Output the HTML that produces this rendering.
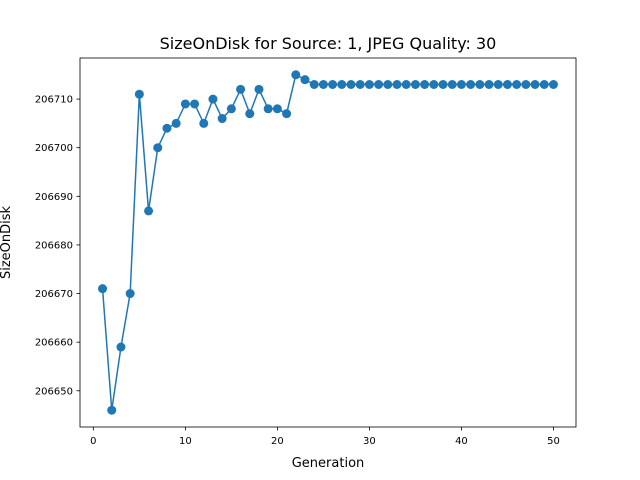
<!DOCTYPE html>
<html><head><meta charset="utf-8"><style>body{margin:0;background:#fff}svg{display:block;font-family:"DejaVu Sans","Liberation Sans",sans-serif}</style></head>
<body>
<svg id="chart" width="640" height="480" viewBox="0 0 640 480" xmlns="http://www.w3.org/2000/svg">
<rect width="640" height="480" fill="#fff"/>
<text x="328" y="49" font-size="16" text-anchor="middle">SizeOnDisk for Source: 1, JPEG Quality: 30</text>
<g id="axes"></g>
<text x="328" y="467" font-size="13" text-anchor="middle">Generation</text>
<text x="0" y="0" font-size="13" text-anchor="middle" transform="translate(10,242.5) rotate(-90)">SizeOnDisk</text>
</svg>
<script>
const generations=[1,2,3,4,5,6,7,8,9,10,11,12,13,14,15,16,17,18,19,20,21,22,23,24,25,26,27,28,29,30,31,32,33,34,35,36,37,38,39,40,41,42,43,44,45,46,47,48,49,50];
const sizes=[206671,206646,206659,206670,206711,206687,206700,206704,206705,206709,
206709,206705,206710,206706,206708,206712,206707,206712,206708,206708,
206707,206715,206714,206713,206713,206713,206713,206713,206713,206713,
206713,206713,206713,206713,206713,206713,206713,206713,206713,206713,
206713,206713,206713,206713,206713,206713,206713,206713,206713,206713];
const xTicks=[0,10,20,30,40,50];
const yTicks=[206650,206660,206670,206680,206690,206700,206710];
const L=80,R=576,T=58,B=427;
const xmin=-1.45,xmax=52.45,ymin=206642.55,ymax=206718.45;
const sx=v=>L+(v-xmin)/(xmax-xmin)*(R-L);
const sy=v=>B-(v-ymin)/(ymax-ymin)*(B-T);
const NS="http://www.w3.org/2000/svg";
const g=document.getElementById('axes');
function mk(t,a,p){const e=document.createElementNS(NS,t);for(const k in a)e.setAttribute(k,a[k]);(p||g).appendChild(e);return e;}
xTicks.forEach(v=>{const x=sx(v);
const l=mk('line',{x1:x,x2:x,y1:B,y2:B+3.5,stroke:'#000','stroke-width':0.8});


const t=mk('text',{x:x,y:B+17,'font-size':10,'text-anchor':'middle'});t.textContent=v;

});
yTicks.forEach(v=>{const y=sy(v);
const l=mk('line',{x1:L-3.5,x2:L,y1:y,y2:y,stroke:'#000','stroke-width':0.8});


const t=mk('text',{x:L-7,y:y+3.5,'font-size':10,'text-anchor':'end'});t.textContent=v;

});
const pts=generations.map((x,i)=>sx(x)+','+sy(sizes[i])).join(' ');
const pl=mk('polyline',{points:pts,fill:'none',stroke:'#1f77b4','stroke-width':1.5});


generations.forEach((x,i)=>{const c=mk('circle',{cx:sx(x),cy:sy(sizes[i]),r:4.5,fill:'#1f77b4'});

});
const f=mk('rect',{x:L,y:T,width:R-L,height:B-T,fill:'none',stroke:'#000','stroke-width':0.8});


</script>
</body></html>
